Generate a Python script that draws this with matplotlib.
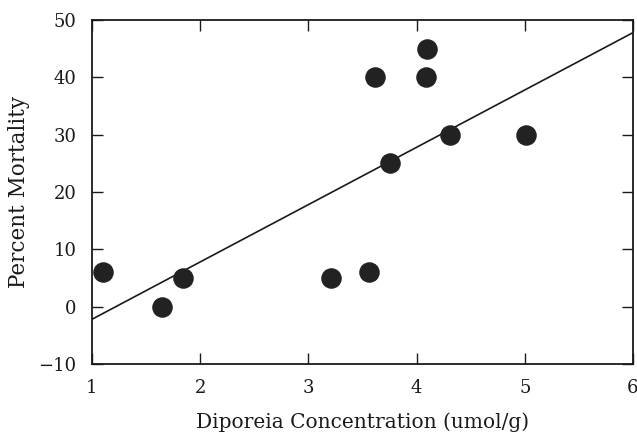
import matplotlib
matplotlib.use('Agg')
import matplotlib.pyplot as plt

# Data
conc = [1.10, 1.65, 1.84, 3.21, 3.56, 3.62, 3.75, 4.09, 4.10, 4.31, 5.01]
mortality = [6, 0, 5, 5, 6, 40, 25, 40, 45, 30, 30]

# Regression line end points
fit_x = [1, 6]
fit_y = [-2.2, 47.8]

xticks = [1, 2, 3, 4, 5, 6]
yticks = [-10, 0, 10, 20, 30, 40, 50]

plt.rcParams['font.family'] = ['DejaVu Serif']

fig = plt.figure(figsize=(6.37, 4.41), dpi=100)
ax = fig.add_axes([0.1444, 0.1746, 0.8493, 0.78])

ax.plot(fit_x, fit_y, color='#1a1a1a', linewidth=1.2)
ax.scatter(conc, mortality, s=190, color='#222222', zorder=3, clip_on=False)

ax.set_xlim(1, 6)
ax.set_ylim(-10, 50)
ax.set_xticks(xticks)
ax.set_yticks(yticks)
ax.tick_params(direction='in', length=8, width=1, labelsize=13, pad=11,
               top=True, right=True, colors='#1a1a1a')
for s in ax.spines.values():
    s.set_linewidth(1.3)
    s.set_color('#1a1a1a')

ax.set_xlabel('Diporeia Concentration (umol/g)', fontsize=14.5, labelpad=11, color='#1a1a1a')
ax.set_ylabel('Percent Mortality', fontsize=15.5, labelpad=6, color='#1a1a1a')

fig.savefig('out.png', dpi=100)
